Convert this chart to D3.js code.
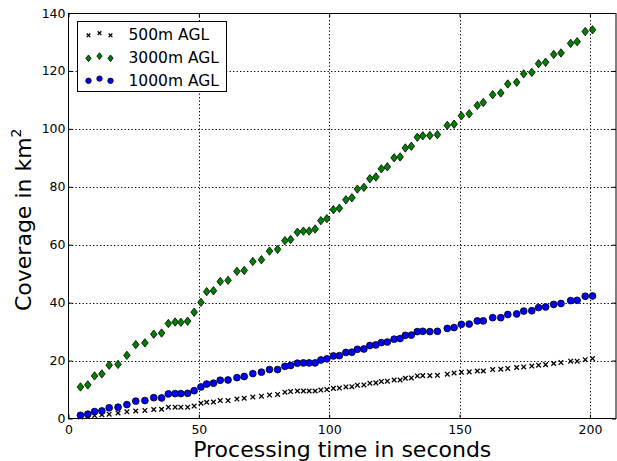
<!DOCTYPE html>
<html>
<head>
<meta charset="utf-8">
<script src="https://cdn.jsdelivr.net/npm/d3@7"></script>
<style>
  html, body { margin: 0; padding: 0; background: #fff; }
  svg { display: block; font-family: "DejaVu Sans", sans-serif; }
</style>
</head>
<body>
<svg id="chart" width="617" height="461"></svg>
<script>
// ---- data ----
const timeSec = [4.6, 7.4, 10.0, 12.8, 15.6, 19.0, 22.4, 25.8, 29.3, 32.7,
  35.7, 38.3, 40.9, 43.1, 45.7, 48.2, 50.8, 53.0, 55.6, 58.2,
  61.2, 64.6, 67.4, 70.7, 74.0, 77.1, 80.2, 83.0, 85.2, 87.8,
  90.1, 92.3, 94.6, 96.8, 99.1, 101.6, 103.9, 106.4, 108.7, 110.8,
  113.3, 115.6, 117.9, 120.0, 122.3, 124.9, 127.2, 129.2, 131.5, 133.8,
  135.9, 138.6, 141.5, 145.3, 147.9, 150.7, 153.7, 156.8, 159.1, 162.7,
  165.8, 168.5, 171.9, 174.6, 177.7, 180.3, 183.0, 186.1, 188.9, 192.6,
  195.1, 198.2, 201.0];

const cov500 = [0.5, 0.7, 1.0, 1.3, 1.5, 1.9, 2.3, 2.6, 2.8, 3.1,
  3.2, 3.9, 3.9, 3.9, 3.9, 4.3, 5.3, 5.6, 5.7, 6.2,
  6.2, 6.7, 7.0, 7.4, 7.7, 8.1, 8.3, 9.1, 9.3, 9.5,
  9.5, 9.5, 9.5, 9.8, 10.0, 10.4, 10.5, 10.9, 11.0, 11.5,
  11.6, 12.2, 12.3, 12.8, 12.9, 13.3, 13.3, 13.9, 14.0, 14.7,
  14.8, 14.8, 14.9, 15.3, 15.7, 16.0, 16.1, 16.4, 16.4, 16.9,
  17.0, 17.3, 17.6, 17.8, 18.1, 18.4, 18.6, 19.0, 19.3, 19.8,
  19.8, 20.3, 20.7];

const cov3000 = [10.9, 11.6, 14.7, 15.4, 18.4, 18.7, 21.8, 25.5, 26.1, 29.1,
  29.5, 32.8, 33.3, 33.2, 33.6, 36.7, 40.1, 43.8, 44.1, 47.3,
  47.7, 50.8, 51.1, 54.2, 54.8, 57.8, 58.4, 61.4, 61.8, 64.3,
  64.7, 64.7, 65.4, 68.3, 69.0, 72.1, 72.6, 75.5, 76.2, 79.2,
  79.8, 82.8, 83.4, 86.2, 86.9, 90.0, 90.3, 93.4, 94.0, 97.1,
  97.6, 97.7, 98.0, 101.2, 101.6, 104.5, 105.2, 108.1, 109.1, 111.8,
  112.4, 115.5, 116.1, 119.0, 119.5, 122.5, 123.0, 125.7, 126.2, 129.5,
  130.1, 133.6, 134.2];

const cov1000 = [1.1, 1.5, 2.4, 2.6, 3.7, 3.9, 4.8, 6.0, 6.2, 7.2,
  7.1, 8.5, 8.6, 8.6, 8.7, 9.6, 10.9, 11.9, 12.2, 13.2,
  13.3, 14.1, 14.5, 15.5, 16.0, 16.9, 16.9, 18.0, 18.3, 19.1,
  19.2, 19.2, 19.2, 20.2, 20.6, 21.6, 21.7, 22.8, 22.9, 23.9,
  24.0, 25.2, 25.4, 26.2, 26.4, 27.4, 27.6, 28.7, 28.8, 30.0,
  30.1, 30.0, 30.1, 31.1, 31.4, 32.5, 32.6, 33.7, 33.7, 34.8,
  34.8, 35.9, 36.1, 37.1, 37.2, 38.3, 38.5, 39.4, 39.7, 40.7,
  40.8, 42.2, 42.3];

const seriesNames = ["500m AGL", "3000m AGL", "1000m AGL"];
const xTicks = [0, 50, 100, 150, 200];
const yTicks = [0, 20, 40, 60, 80, 100, 120, 140];
const xTitle = "Processing time in seconds";
const yTitle = "Coverage in km";

// ---- layout ----
const svg = d3.select("#chart");
const pL = 68.5, pR = 616, pT = 13, pB = 418.5;
const x = d3.scaleLinear().domain([0, 210]).range([pL, pR]);
const y = d3.scaleLinear().domain([0, 140]).range([pB, pT]);

const series = [
  { name: seriesNames[0], values: cov500, kind: "x" },
  { name: seriesNames[1], values: cov3000, kind: "diamond", fill: "#007f00" },
  { name: seriesNames[2], values: cov1000, kind: "circle", fill: "#0000ff" }
];

// grid
const grid = svg.append("g").attr("stroke", "#000").attr("stroke-width", 1)
  .attr("stroke-dasharray", "1.3,2.2");
xTicks.filter(t => t > 0).forEach(t => {
  grid.append("line").attr("x1", Math.round(x(t)) + 0.5).attr("x2", Math.round(x(t)) + 0.5)
    .attr("y1", pT).attr("y2", pB);
});
yTicks.filter(t => t > 0 && t < 140).forEach(t => {
  grid.append("line").attr("y1", Math.round(y(t)) + 0.5).attr("y2", Math.round(y(t)) + 0.5)
    .attr("x1", pL).attr("x2", pR);
});

// markers
function drawMarker(g, kind, cx, cy, fill, scale) {
  const s = scale || 1;
  if (kind === "x") {
    const d = 2.3 * s;
    g.append("path")
      .attr("d", `M${cx - d},${cy - d}L${cx + d},${cy + d}M${cx - d},${cy + d}L${cx + d},${cy - d}`)
      .attr("stroke", "#000").attr("stroke-width", 1.3).attr("fill", "none");
  } else if (kind === "diamond") {
    const w = 3.3 * s, h = 4.2 * s;
    g.append("path")
      .attr("d", `M${cx},${cy - h}L${cx + w},${cy}L${cx},${cy + h}L${cx - w},${cy}Z`)
      .attr("fill", fill).attr("stroke", "#000").attr("stroke-width", 0.8);
  } else {
    g.append("circle").attr("cx", cx).attr("cy", cy).attr("r", 3.4 * s)
      .attr("fill", fill).attr("stroke", "#000").attr("stroke-width", 0.8);
  }
}

const marks = svg.append("g");
series.forEach(s => {
  const g = marks.append("g");
  s.values.forEach((v, i) => drawMarker(g, s.kind, x(timeSec[i]), y(v), s.fill));
});

// frame
svg.append("rect").attr("x", pL).attr("y", pT + 0.5)
  .attr("width", pR - pL).attr("height", pB - pT - 0.5)
  .attr("fill", "none").attr("stroke", "#000").attr("stroke-width", 1);

// axes (inward ticks on all sides)
const axB = d3.axisBottom(x).tickValues(xTicks).tickSizeInner(-4).tickSizeOuter(0).tickPadding(7);
const axL = d3.axisLeft(y).tickValues(yTicks).tickSizeInner(-4).tickSizeOuter(0).tickPadding(3);
const axT = d3.axisTop(x).tickValues(xTicks).tickSizeInner(-4).tickSizeOuter(0).tickFormat("");
const axR = d3.axisRight(y).tickValues(yTicks).tickSizeInner(-4).tickSizeOuter(0).tickFormat("");

function styleAxis(g) {
  g.select(".domain").remove();
  g.selectAll("line").attr("stroke", "#000");
  g.selectAll("text").attr("fill", "#000").style("font-size", "12.5px")
    .style("font-family", "DejaVu Sans, sans-serif");
}
svg.append("g").attr("transform", `translate(0,${pB})`).call(axB).call(styleAxis);
svg.append("g").attr("transform", `translate(${pL},0)`).call(axL).call(styleAxis);
svg.append("g").attr("transform", `translate(0,${pT})`).call(axT).call(styleAxis);
svg.append("g").attr("transform", `translate(${pR},0)`).call(axR).call(styleAxis);

// axis titles
svg.append("text").attr("x", (pL + pR) / 2).attr("y", 457)
  .attr("text-anchor", "middle").style("font-size", "22px").attr("fill", "#000")
  .text(xTitle);

const yt = svg.append("text")
  .attr("transform", `translate(31,${(pT + pB) / 2 + 4}) rotate(-90)`)
  .attr("text-anchor", "middle").style("font-size", "22px").attr("fill", "#000");
yt.append("tspan").text(yTitle);
yt.append("tspan").attr("dy", "-0.7em").style("font-size", "14px").text("2");

// legend
const lg = svg.append("g");
lg.append("rect").attr("x", 77.5).attr("y", 21.5).attr("width", 149).attr("height", 70)
  .attr("fill", "#fff").attr("stroke", "#000").attr("stroke-width", 1);
const rowY = [34.5, 57.5, 80];
const mx = [88.5, 99.5, 110.5];
const jitter = [0.8, -1.4, 0.8];
series.forEach((s, r) => {
  mx.forEach((px, k) => drawMarker(lg, s.kind, px, rowY[r] + jitter[k], s.fill, 0.8));
  lg.append("text").attr("x", 128.5).attr("y", rowY[r] + 5.5)
    .style("font-size", "15.5px").attr("fill", "#000").text(s.name);
});
</script>
</body>
</html>
